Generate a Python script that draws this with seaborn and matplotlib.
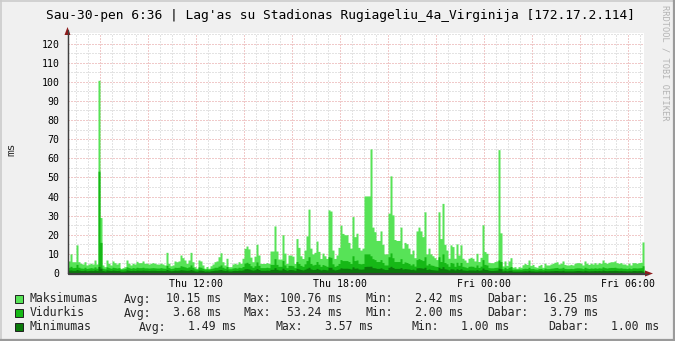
import numpy as np
import pandas as pd
import matplotlib
matplotlib.use("Agg")
import matplotlib.pyplot as plt
from matplotlib.patches import Rectangle, Polygon
from matplotlib.lines import Line2D
import seaborn as sns

# ---------------- data ----------------
title = "Sau-30-pen 6:36 | Lag'as su Stadionas Rugiageliu_4a_Virginija [172.17.2.114]"
series_names = ["Maksimumas", "Vidurkis", "Minimumas"]
start_hour = 6 + 40 / 60.0      # Thu 06:40 (hours since Thu 00:00)
step_minutes = 5

maksimumas = [
    6.3, 10.0, 5.9, 5.9, 14.7, 5.9, 5.1, 4.7, 5.9, 4.2, 4.7, 5.1, 4.7, 6.8, 4.7, 100.76, 29.0,
    4.2, 3.3, 6.8, 5.1, 4.2, 6.3, 5.4, 4.7, 5.4, 2.42, 2.8, 3.3, 6.8, 5.1, 4.2, 5.1, 4.7, 6.1, 5.4,
    5.4, 6.3, 5.1, 5.1, 4.7, 5.1, 5.4, 5.1, 4.7, 4.7, 5.1,
    4.7, 4.2, 10.8, 5.1, 3.8, 4.2, 6.3, 5.9, 6.3, 9.4, 8.0, 6.8, 5.1, 6.8, 10.8, 5.9, 3.3, 2.5,
    6.8, 6.3, 4.2, 2.5, 3.4, 2.5, 3.8, 4.7, 5.9, 6.3, 8.5, 10.6, 5.9, 4.2, 7.7, 3.3, 3.3, 4.7,
    5.1, 4.7, 5.9, 5.1, 7.7, 12.9, 14.1, 12.6, 8.3, 5.9, 8.8, 15.0, 9.4,
    5.0, 5.0, 5.0, 5.4, 5.0, 11.5, 11.5, 24.6, 11.5, 7.3, 7.3, 20.0, 10.4, 5.0, 9.4, 9.4, 8.8,
    5.0, 18.0, 13.4, 9.0, 7.6, 12.0, 19.4, 33.4, 13.0, 10.0, 10.8, 16.7, 11.3, 7.6, 10.4, 9.0,
    7.6, 33.0, 32.4, 12.0, 7.6, 9.4, 13.4, 25.0, 20.7, 20.0, 20.0, 16.0, 13.0,
    29.5, 19.0, 20.8, 13.4, 12.0, 13.0, 40.3, 40.3, 40.3, 64.9, 24.0, 21.6, 17.0, 17.0, 22.0,
    15.0, 10.0, 10.0, 31.3, 50.8, 30.4, 17.5, 17.0, 17.0, 24.0, 13.0, 16.0, 15.3, 13.0, 10.0,
    12.0, 8.0, 22.0, 24.0, 22.0, 19.0, 32.0, 10.0, 13.0, 10.0, 9.0, 8.0, 7.0, 32.0,
    18.0, 36.4, 15.0, 12.0, 7.7, 14.7, 13.8, 7.7, 15.2, 9.4, 14.7, 7.7, 6.8, 5.6, 7.7, 8.2, 7.7,
    6.3, 10.3, 6.0, 8.2, 25.2, 11.2, 10.3, 5.6, 5.4, 5.4, 6.0, 6.3, 64.5, 21.0, 3.7, 6.3, 4.0,
    6.3, 8.0, 3.0, 3.3, 2.5, 3.3, 3.0, 4.3, 5.0, 4.5, 6.8, 4.0, 4.5, 3.3, 3.0, 4.0, 4.5, 3.0,
    5.1, 4.2, 4.2, 4.7, 5.1, 5.6, 5.9, 4.7, 5.1, 6.3, 4.5, 4.2, 4.2, 4.5, 4.2, 5.1, 5.4, 5.4,
    5.1, 4.2, 6.3, 5.1, 4.5, 5.1, 4.7, 5.4, 4.7, 5.4, 5.1, 6.8, 5.6, 5.1, 5.6, 5.9, 5.9, 6.3,
    5.4, 5.1, 5.4, 4.7, 4.7, 4.2, 5.1, 4.2, 5.4, 5.4, 5.1, 5.4, 5.6, 16.25,
]

vidurkis = [
    3.0, 3.5, 2.8, 2.9, 4.5, 3.0, 2.6, 2.5, 3.0, 2.4, 2.6, 2.8, 2.6, 3.2, 2.5, 53.24, 16.0,
    2.5, 2.2, 3.2, 2.8, 2.5, 3.0, 2.8, 2.6, 2.8, 2.0, 2.1, 2.3, 3.2, 2.8, 2.5, 2.8, 2.6, 3.0, 2.8,
    2.8, 3.0, 2.7, 2.7, 2.6, 2.7, 2.8, 2.7, 2.6, 2.6, 2.8,
    2.6, 2.5, 4.0, 2.8, 2.3, 2.5, 3.0, 2.9, 3.0, 3.8, 3.5, 3.2, 2.8, 3.2, 4.2, 3.0, 2.2, 2.0,
    3.2, 3.0, 2.5, 2.0, 2.2, 2.0, 2.3, 2.6, 3.0, 3.0, 3.6, 4.2, 3.0, 2.5, 3.4, 2.2, 2.2, 2.6,
    2.8, 2.6, 3.0, 2.8, 3.4, 5.2, 5.6, 5.0, 3.8, 3.0, 3.8, 5.8, 4.0,
    2.8, 2.8, 2.8, 3.0, 2.8, 4.5, 4.5, 7.5, 4.5, 3.5, 3.5, 6.5, 4.2, 2.8, 4.0, 4.0, 3.8,
    2.8, 6.0, 5.0, 4.0, 3.5, 4.8, 6.5, 8.5, 5.0, 4.2, 4.5, 6.0, 4.6, 3.5, 4.4, 4.0,
    3.5, 8.5, 8.2, 4.8, 3.5, 4.0, 5.0, 7.0, 6.5, 6.5, 6.5, 6.0, 5.0,
    9.0, 6.5, 6.8, 5.0, 4.8, 5.0, 10.0, 10.0, 10.0, 9.0, 7.5, 7.0, 6.0, 6.0, 7.0,
    5.5, 4.2, 4.2, 8.5, 10.5, 8.0, 6.0, 6.0, 6.0, 7.5, 5.0, 5.8, 5.5, 5.0, 4.2,
    4.8, 3.6, 7.0, 7.5, 7.0, 6.5, 8.5, 4.2, 5.0, 4.2, 4.0, 3.6, 3.4, 8.5,
    6.0, 10.0, 5.5, 4.8, 3.5, 5.5, 5.2, 3.5, 5.6, 4.0, 5.5, 3.5, 3.2, 2.8, 3.5, 3.6, 3.5,
    3.0, 4.2, 2.9, 3.6, 7.0, 4.5, 4.2, 2.8, 2.7, 2.7, 2.9, 3.0, 6.8, 6.0, 2.2, 3.0, 2.3,
    3.0, 3.4, 2.0, 2.1, 2.0, 2.1, 2.0, 2.3, 2.5, 2.4, 3.0, 2.3, 2.4, 2.1, 2.0, 2.3, 2.4, 2.0,
    2.6, 2.3, 2.3, 2.5, 2.6, 2.8, 2.9, 2.5, 2.6, 3.0, 2.4, 2.3, 2.3, 2.4, 2.3, 2.6, 2.7, 2.7,
    2.6, 2.3, 3.0, 2.6, 2.4, 2.6, 2.5, 2.7, 2.5, 2.7, 2.6, 3.2, 2.8, 2.6, 2.8, 2.9, 2.9, 3.0,
    2.7, 2.6, 2.7, 2.5, 2.5, 2.3, 2.6, 2.3, 2.7, 2.7, 2.6, 2.7, 2.8, 3.79,
]

minimumas = [
    1.5, 1.6, 1.4, 1.4, 1.8, 1.5, 1.3, 1.3, 1.5, 1.2, 1.3, 1.4, 1.3, 1.6, 1.3, 3.4, 2.5,
    1.3, 1.1, 1.6, 1.4, 1.3, 1.5, 1.4, 1.3, 1.4, 1.0, 1.0, 1.1, 1.6, 1.4, 1.3, 1.4, 1.3, 1.5, 1.4,
    1.4, 1.5, 1.4, 1.4, 1.3, 1.4, 1.4, 1.4, 1.3, 1.3, 1.4,
    1.3, 1.3, 1.8, 1.4, 1.2, 1.3, 1.5, 1.4, 1.5, 1.7, 1.6, 1.5, 1.4, 1.5, 1.8, 1.5, 1.1, 1.0,
    1.5, 1.5, 1.3, 1.0, 1.1, 1.0, 1.2, 1.3, 1.5, 1.5, 1.7, 1.8, 1.5, 1.3, 1.6, 1.1, 1.1, 1.3,
    1.4, 1.3, 1.5, 1.4, 1.6, 2.2, 2.3, 2.1, 1.7, 1.5, 1.7, 2.3, 1.8,
    1.4, 1.4, 1.4, 1.5, 1.4, 1.9, 1.9, 2.8, 1.9, 1.6, 1.6, 2.5, 1.8, 1.4, 1.8, 1.8, 1.7,
    1.4, 2.4, 2.1, 1.8, 1.6, 2.0, 2.5, 3.0, 2.1, 1.8, 1.9, 2.4, 2.0, 1.6, 1.9, 1.8,
    1.6, 3.0, 3.0, 2.0, 1.6, 1.8, 2.1, 2.7, 2.5, 2.5, 2.5, 2.4, 2.1,
    3.2, 2.5, 2.6, 2.1, 2.0, 2.1, 3.4, 3.5, 3.5, 3.57, 2.8, 2.7, 2.4, 2.4, 2.7,
    2.2, 1.8, 1.8, 3.0, 3.5, 2.9, 2.4, 2.4, 2.4, 2.8, 2.1, 2.3, 2.2, 2.1, 1.8,
    2.0, 1.6, 2.7, 2.8, 2.7, 2.5, 3.0, 1.8, 2.1, 1.8, 1.7, 1.6, 1.5, 3.0,
    2.4, 3.3, 2.2, 2.0, 1.6, 2.2, 2.1, 1.6, 2.2, 1.8, 2.2, 1.6, 1.5, 1.4, 1.6, 1.6, 1.6,
    1.5, 1.8, 1.4, 1.6, 2.6, 1.9, 1.8, 1.4, 1.3, 1.3, 1.4, 1.5, 2.5, 2.2, 1.1, 1.4, 1.1,
    1.4, 1.5, 1.0, 1.0, 1.0, 1.0, 1.0, 1.1, 1.2, 1.1, 1.4, 1.1, 1.1, 1.0, 1.0, 1.1, 1.1, 1.0,
    1.2, 1.1, 1.1, 1.2, 1.2, 1.3, 1.3, 1.2, 1.2, 1.4, 1.1, 1.1, 1.1, 1.1, 1.1, 1.2, 1.3, 1.3,
    1.2, 1.1, 1.4, 1.2, 1.1, 1.2, 1.2, 1.3, 1.2, 1.3, 1.2, 1.5, 1.3, 1.2, 1.3, 1.3, 1.3, 1.4,
    1.3, 1.2, 1.3, 1.2, 1.2, 1.1, 1.2, 1.1, 1.3, 1.3, 1.2, 1.3, 1.3, 1.0,
]

xtick_hours = [12, 18, 24, 30]
xtick_labels = ["Thu 12:00", "Thu 18:00", "Fri 00:00", "Fri 06:00"]
ytick_values = list(range(0, 121, 10))

legend_avg = ["10.15", "3.68", "1.49"]
legend_max = ["100.76", "53.24", "3.57"]
legend_min = ["2.42", "2.00", "1.00"]
legend_cur = ["16.25", "3.79", "1.00"]

if not (len(maksimumas) == len(vidurkis) == len(minimumas)):
    raise ValueError(f"lengths {len(maksimumas)} {len(vidurkis)} {len(minimumas)}")

# ---------------- styling ----------------
W, H = 675, 341
BG = "#F0F0F0"
colors = ["#57E357", "#16B816", "#0A7A0A"]
MONO = "DejaVu Sans Mono"

sns.set_style("white")
plt.rcParams["font.family"] = [MONO, "DejaVu Sans"]


def fx(x):
    return x / W


def fy(y):
    return 1 - y / H


fig = plt.figure(figsize=(W / 100, H / 100), dpi=100, facecolor=BG)
ax = fig.add_axes([fx(68), fy(273), 576 / W, 240 / H])
ax.set_facecolor("white")

n = len(maksimumas)
edges = start_hour + np.arange(n + 1) * step_minutes / 60.0
centers = (edges[:-1] + edges[1:]) / 2
df = pd.DataFrame({"t": centers, "Maksimumas": maksimumas,
                   "Vidurkis": vidurkis, "Minimumas": minimumas})
bin_edges = [float(e) for e in edges]

for name, col in zip(series_names, colors):
    sns.histplot(data=df, x="t", weights=name, bins=bin_edges, element="step",
                 fill=True, color=col, alpha=1.0, linewidth=0, ax=ax)

x0, x1 = edges[0], edges[-1]
ymax = 125.5
ax.set_xlim(x0, x1)
ax.set_ylim(0, ymax)
ax.set_xlabel("")
ax.set_ylabel("")

# grid: minor gray, major red, dotted
major_x = np.arange(8, 31, 2)
minor_x = np.arange(7.0, x1, 0.5)
ax.set_xticks(major_x)
ax.set_xticklabels([xtick_labels[xtick_hours.index(h)] if h in xtick_hours else "" for h in major_x])
ax.set_xticks(minor_x, minor=True)
ax.set_yticks(ytick_values)
ax.set_yticklabels([str(v) for v in ytick_values])
ax.set_yticks(np.arange(5, 126, 10), minor=True)

ax.set_axisbelow(True)
dot = (0, (1, 2))
ax.grid(which="minor", color="#C8C8C8", linestyle=dot, linewidth=0.72)
ax.grid(which="major", color="#E29494", linestyle=dot, linewidth=0.72)

ax.tick_params(axis="both", which="both", length=2, width=0.72, labelsize=7.1)
ax.tick_params(axis="x", which="major", colors="#E29494", labelcolor="black", pad=2)
ax.tick_params(axis="x", which="minor", colors="#C8C8C8")
ax.tick_params(axis="y", which="major", colors="#E29494", labelcolor="black", pad=4)
ax.tick_params(axis="y", which="minor", colors="#C8C8C8")
for lab in ax.get_xticklabels() + ax.get_yticklabels():
    lab.set_family(MONO)

for s in ["top", "right"]:
    ax.spines[s].set_visible(False)
for s in ["left", "bottom"]:
    ax.spines[s].set_color("#404040")
    ax.spines[s].set_linewidth(0.9)

# axis extensions and arrows (rrdtool style)
fig.add_artist(Line2D([fx(67.5), fx(67.5)], [fy(273), fy(30)], color="#404040", lw=0.9))
fig.add_artist(Line2D([fx(68), fx(648)], [fy(273.5), fy(273.5)], color="#404040", lw=0.9))
arrow_col = "#8E1B1B"
fig.add_artist(Polygon([[fx(64.5), fy(35)], [fx(70.5), fy(35)], [fx(67.5), fy(27)]],
                       closed=True, transform=fig.transFigure, color=arrow_col, lw=0))
fig.add_artist(Polygon([[fx(645), fy(270.5)], [fx(645), fy(276.5)], [fx(653), fy(273.5)]],
                       closed=True, transform=fig.transFigure, color=arrow_col, lw=0))

# texts
fig.text(fx(340.5), fy(16), title, ha="center", va="center", fontsize=9.3,
         family=MONO, color="black")
fig.text(fx(11), fy(149), "ms", ha="center", va="center", rotation=90,
         fontsize=8, family=MONO)
fig.text(fx(665), fy(5), "RRDTOOL / TOBI OETIKER", ha="center", va="top",
         rotation=270, fontsize=6.2, family=MONO, color="#B4B4B4")

# legend
row_y = [299, 313, 327]
col_pos = [
    (124, 221, 244, 342, 365, 463, 487, 598),
    (124, 221, 244, 342, 365, 463, 487, 598),
    (139, 236, 276, 373, 412, 509, 548, 659),
]
lfs = 8.3
for k, name in enumerate(series_names):
    y = row_y[k]
    fig.add_artist(Rectangle((fx(15), fy(y + 4)), 8 / W, 8 / H, transform=fig.transFigure,
                             facecolor=colors[k], edgecolor="#202020", lw=0.7))
    fig.text(fx(30), fy(y), name, ha="left", va="center", fontsize=lfs, family=MONO)
    a, av, m, mv, mi, miv, d, dv = col_pos[k]
    fig.text(fx(a), fy(y), "Avg:", ha="left", va="center", fontsize=lfs, family=MONO)
    fig.text(fx(av), fy(y), f"{legend_avg[k]} ms", ha="right", va="center", fontsize=lfs, family=MONO)
    fig.text(fx(m), fy(y), "Max:", ha="left", va="center", fontsize=lfs, family=MONO)
    fig.text(fx(mv), fy(y), f"{legend_max[k]} ms", ha="right", va="center", fontsize=lfs, family=MONO)
    fig.text(fx(mi), fy(y), "Min:", ha="left", va="center", fontsize=lfs, family=MONO)
    fig.text(fx(miv), fy(y), f"{legend_min[k]} ms", ha="right", va="center", fontsize=lfs, family=MONO)
    fig.text(fx(d), fy(y), "Dabar:", ha="left", va="center", fontsize=lfs, family=MONO)
    fig.text(fx(dv), fy(y), f"{legend_cur[k]} ms", ha="right", va="center", fontsize=lfs, family=MONO)

# 3D-ish frame
fig.add_artist(Line2D([0, 1], [fy(0.5), fy(0.5)], color="#CBCBCB", lw=1.2))
fig.add_artist(Line2D([fx(0.5), fx(0.5)], [0, 1], color="#CBCBCB", lw=1.2))
fig.add_artist(Line2D([0, 1], [fy(340), fy(340)], color="#9A9A9A", lw=1.6))
fig.add_artist(Line2D([fx(674), fx(674)], [0, 1], color="#9A9A9A", lw=1.6))

fig.savefig("out.png", dpi=100, facecolor=BG)
